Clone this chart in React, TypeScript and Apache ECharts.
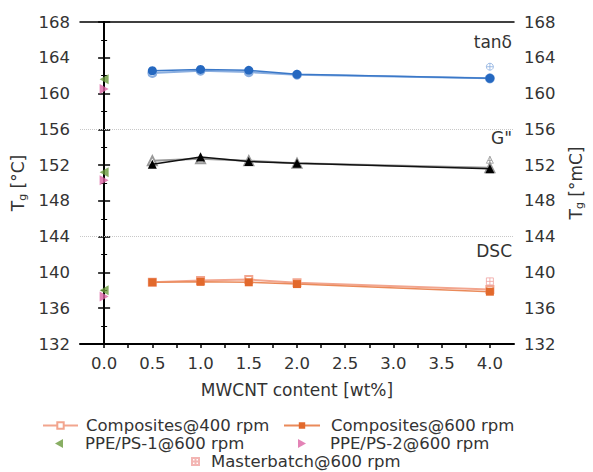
import React, { useEffect, useRef } from "react";
import * as echarts from "echarts";

const xValues = [0.5, 1.0, 1.5, 2.0, 4.0];
const dsc400 = [138.9, 139.1, 139.2, 138.85, 138.1];
const dsc600 = [138.9, 138.95, 138.9, 138.7, 137.85];
const tan400 = [162.3, 162.55, 162.4, 162.1, 161.7];
const tan600 = [162.55, 162.7, 162.6, 162.15, 161.7];
const g400 = [152.5, 152.7, 152.5, 152.2, 151.7];
const g600 = [152.1, 152.9, 152.4, 152.2, 151.6];
const ppe1X = [0, 0, 0];
const ppe1 = [138.0, 151.2, 161.6];
const ppe2X = [0, 0, 0];
const ppe2 = [137.3, 150.3, 160.5];
const mbX = 4.0;
const mbDsc = [139.0];
const mbG = [152.6];
const mbTan = [163.0];
const separators = [156, 144];
const yTicks = { min: 132, max: 168, interval: 4 };
const regionLabels = ["tanδ", 'G"', "DSC"];

const FONT = "DejaVu Sans, Verdana, sans-serif";
const FS = 16.5;
const FT = 17;

const pair = (xs: number[], ys: number[]) => xs.map((x, i) => [x, ys[i]]);

export default function App() {
  const ref = useRef<HTMLDivElement>(null);
  useEffect(() => {
    if (!ref.current) return;
    const chart = echarts.init(ref.current, undefined, { renderer: "svg" });
    const TXT = "#333";
    const axisText = { fontFamily: FONT, fontSize: FS, color: TXT };
    const yName = (unit: string) => "{t|T}{s|g}{t| [" + unit + "]}";
    const yRich = {
      t: { fontFamily: FONT, fontSize: FT, color: TXT },
      s: { fontFamily: FONT, fontSize: 11, color: TXT, padding: [8, 0, 0, 0] },
    };
    const yCommon = {
      type: "value",
      min: yTicks.min,
      max: yTicks.max,
      interval: yTicks.interval,
      nameLocation: "middle",
      nameRotate: 90,
      axisLine: { show: true, lineStyle: { color: "#000", width: 2 } },
      axisTick: { show: true, inside: false, length: 6, lineStyle: { color: "#000", width: 1.5 } },
      minorTick: { show: true, splitNumber: 2, length: 3, lineStyle: { color: "#000", width: 1 } },
      splitLine: { show: false },
      axisLabel: { ...axisText, margin: 10 },
    };
    const sepLine = {
      silent: true,
      symbol: "none",
      label: { show: false },
      lineStyle: { color: "#c8c8c8", type: "dotted", width: 1 },
      data: separators.map((v) => ({ yAxis: v })),
    };
    const sqCross = "path://M0,0H10V10H0Z M5,0V10 M0,5H10";
    const circCross = "path://M5,0A5,5 0 1,1 4.99,0Z M5,0V10 M0,5H10";
    const triCross = "path://M5,0L10,9H0Z M5,0V9 M2,5.5H8";
    const triLeft = "path://M0,5L9,0V10Z";
    const triRight = "path://M0,0L9,5L0,10Z";

    const legendItem = (name: string, left: number, top: number, w: number, h: number, padLeft: number) => ({
      data: [name],
      left,
      top,
      padding: 0,
      itemWidth: w,
      itemHeight: h,
      textStyle: { fontFamily: FONT, fontSize: FS, color: TXT, padding: [0, 0, 0, padLeft] },
    });

    chart.setOption({
      animation: false,
      grid: { left: 80, right: 75, top: 22, bottom: 128, containLabel: false },
      xAxis: [
        {
          type: "value",
          min: -0.25,
          max: 4.25,
          interval: 0.25,
          name: "MWCNT content [wt%]",
          nameLocation: "middle",
          nameGap: 37,
          nameTextStyle: { fontFamily: FONT, fontSize: FT, color: TXT },
          axisLine: { show: true, onZero: false, lineStyle: { color: "#000", width: 2 } },
          axisTick: { show: true, length: 4, lineStyle: { color: "#000", width: 1.5 } },
          splitLine: { show: false },
          axisLabel: {
            ...axisText,
            margin: 11,
            showMinLabel: false,
            showMaxLabel: false,
            formatter: (v: number) => (Math.abs(v * 2 - Math.round(v * 2)) < 1e-6 ? v.toFixed(1) : ""),
          },
        },
        {
          type: "value",
          position: "top",
          min: -0.25,
          max: 4.25,
          axisLine: { show: true, onZero: false, lineStyle: { color: "#000", width: 1.5 } },
          axisTick: { show: false },
          axisLabel: { show: false },
          splitLine: { show: false },
        },
      ],
      yAxis: [
        { ...yCommon, position: "left", name: yName("°C"), nameGap: 52, nameTextStyle: { rich: yRich } },
        { ...yCommon, position: "right", name: yName("°mC"), nameGap: 52, nameTextStyle: { rich: yRich } },
      ],
      legend: [
        legendItem("Composites@400 rpm", 42, 417, 35, 8, 3),
        legendItem("Composites@600 rpm", 283, 417, 36, 8, 6),
        legendItem("PPE/PS-1@600 rpm", 55, 435, 8, 9, 17),
        legendItem("PPE/PS-2@600 rpm", 298, 435, 8, 9, 19),
        legendItem("Masterbatch@600 rpm", 191, 453, 7, 7, 7),
      ],
      graphic: regionLabels.map((t, i) => ({
        type: "text",
        right: 81,
        top: [33, 129, 242][i],
        silent: true,
        style: { text: t, font: FT + "px " + FONT, fill: TXT },
      })),
      series: [
        {
          name: "Composites@400 rpm",
          type: "line",
          data: pair(xValues, dsc400),
          symbol: "emptyRect",
          symbolSize: 7,
          itemStyle: { color: "#f2a58e", borderWidth: 1.2 },
          lineStyle: { color: "#f2a58e", width: 2 },
          z: 2,
          markLine: sepLine,
        },
        {
          name: "Composites@600 rpm",
          type: "line",
          data: pair(xValues, dsc600),
          symbol: "rect",
          symbolSize: 8,
          itemStyle: { color: "#e2692c" },
          lineStyle: { color: "#ea8a5a", width: 1.5 },
          z: 3,
        },
        {
          name: "tan400",
          type: "line",
          data: pair(xValues, tan400),
          symbol: "emptyCircle",
          symbolSize: 8,
          itemStyle: { color: "#8aaee0", borderWidth: 1.2 },
          lineStyle: { color: "#8aaee0", width: 2 },
          z: 2,
        },
        {
          name: "tan600",
          type: "line",
          data: pair(xValues, tan600),
          symbol: "circle",
          symbolSize: 9,
          itemStyle: { color: "#2568c0" },
          lineStyle: { color: "#3a78c8", width: 1.5 },
          z: 3,
        },
        {
          name: "g400",
          type: "line",
          data: pair(xValues, g400),
          symbol: "emptyTriangle",
          symbolSize: 9,
          itemStyle: { color: "#999", borderWidth: 1.2 },
          lineStyle: { color: "#999", width: 2 },
          z: 2,
        },
        {
          name: "g600",
          type: "line",
          data: pair(xValues, g600),
          symbol: "triangle",
          symbolSize: 9,
          itemStyle: { color: "#000" },
          lineStyle: { color: "#111", width: 1.5 },
          z: 3,
        },
        {
          name: "PPE/PS-1@600 rpm",
          type: "scatter",
          data: pair(ppe1X, ppe1),
          symbol: triLeft,
          symbolSize: [9, 10],
          itemStyle: { color: "#6a9a3c" },
          z: 4,
        },
        {
          name: "PPE/PS-2@600 rpm",
          type: "scatter",
          data: pair(ppe2X, ppe2),
          symbol: triRight,
          symbolSize: [9, 10],
          itemStyle: { color: "#dc64a4" },
          z: 4,
        },
        {
          name: "Masterbatch@600 rpm",
          type: "scatter",
          data: mbDsc.map((v) => [mbX, v]),
          symbol: sqCross,
          symbolSize: 7,
          itemStyle: { color: "rgba(255,255,255,0)", borderColor: "#f0a3a0", borderWidth: 1 },
          z: 4,
        },
        {
          name: "mbTan",
          type: "scatter",
          data: mbTan.map((v) => [mbX, v]),
          symbol: circCross,
          symbolSize: 7,
          itemStyle: { color: "rgba(255,255,255,0)", borderColor: "#8aaee0", borderWidth: 1 },
          z: 4,
        },
        {
          name: "mbG",
          type: "scatter",
          data: mbG.map((v) => [mbX, v]),
          symbol: triCross,
          symbolSize: 7,
          itemStyle: { color: "rgba(255,255,255,0)", borderColor: "#999", borderWidth: 1 },
          z: 4,
        },
      ],
    });
    return () => chart.dispose();
  }, []);
  return <div ref={ref} style={{ width: 593, height: 472, position: "absolute", left: 0, top: 0 }} />;
}
